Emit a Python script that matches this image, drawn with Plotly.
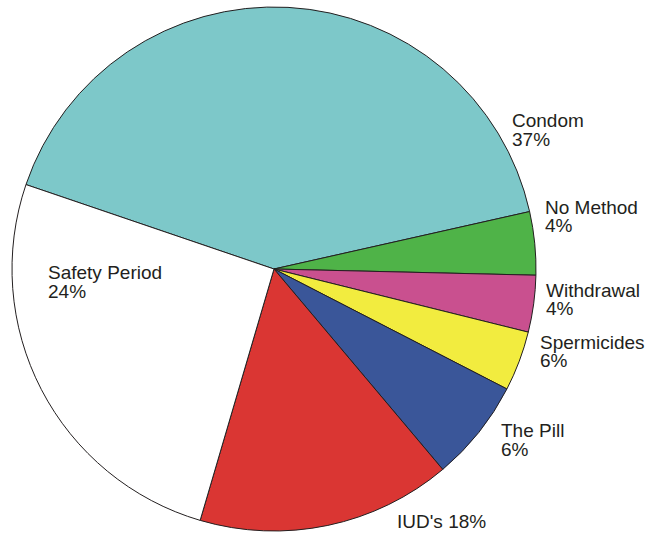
import plotly.graph_objects as go

methods = ["Condom", "No Method", "Withdrawal", "Spermicides", "The Pill", "IUD's", "Safety Period"]
shares = [41.3, 3.9, 3.5, 3.7, 6.3, 15.7, 25.7]
pct_labels = ["37%", "4%", "4%", "6%", "6%", "18%", "24%"]
colors = ["#7DC8C9", "#4FB348", "#C9508F", "#F2EC3F", "#3A5699", "#DA3633", "#FFFFFF"]

W, H = 648, 533
cx, cy, r = 274, 269, 262

fig = go.Figure(go.Pie(
    labels=methods,
    values=shares,
    sort=False,
    direction="clockwise",
    rotation=-71.2,
    marker=dict(colors=colors, line=dict(color="#231F20", width=1)),
    textinfo="none",
    hoverinfo="label+percent",
    domain=dict(x=[(cx - r) / W, (cx + r) / W], y=[1 - (cy + r) / H, 1 - (cy - r) / H]),
    showlegend=False,
))

# label placement (left x, line centre y in pixels); lines per label
label_pos = {
    "Condom": (511, [121, 139]),
    "No Method": (544, [207.5, 226]),
    "Withdrawal": (545, [290, 308]),
    "Spermicides": (539, [342, 360]),
    "The Pill": (500, [430, 449.5]),
    "IUD's": (396, [521]),
    "Safety Period": (47, [272.5, 291.5]),
}

annotations = []
for name, pct in zip(methods, pct_labels):
    x, ys = label_pos[name]
    lines = [name, pct] if len(ys) == 2 else [f"{name} {pct}"]
    for line, y in zip(lines, ys):
        annotations.append(dict(
            text=line, x=x / W, y=1 - y / H, xref="paper", yref="paper",
            xanchor="left", yanchor="middle", showarrow=False, borderpad=0,
            font=dict(family="Liberation Sans, Arial, sans-serif", size=19, color="#231F20"),
        ))

fig.update_layout(
    width=W, height=H,
    margin=dict(l=0, r=0, t=0, b=0),
    paper_bgcolor="white", plot_bgcolor="white",
    annotations=annotations,
)

fig.write_html("out.html", config={"displayModeBar": False},
               post_script="document.body.style.margin='0px';")
